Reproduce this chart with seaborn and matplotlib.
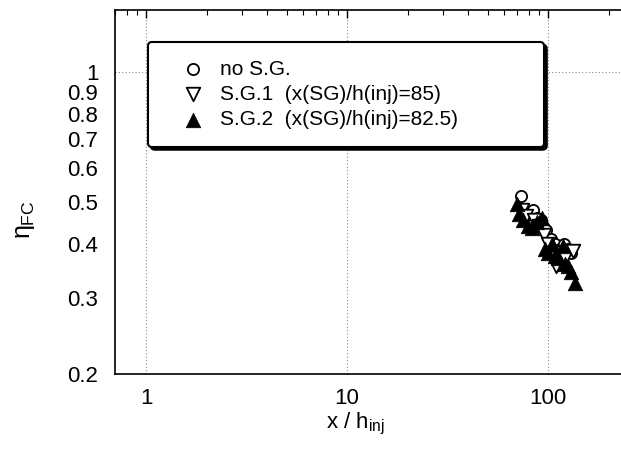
import numpy as np
import pandas as pd
import seaborn as sns
import matplotlib
matplotlib.use("Agg")
import matplotlib.pyplot as plt
from matplotlib.ticker import LogLocator, FixedLocator, FixedFormatter, NullFormatter

# ---- data ----
x_nosg = [73, 80, 84, 88, 92, 98, 103, 108, 115, 120, 126, 130]
y_nosg = [0.515, 0.47, 0.48, 0.46, 0.455, 0.43, 0.41, 0.40, 0.39, 0.40, 0.39, 0.38]

x_sg1 = [74, 78, 85, 90, 95, 100, 106, 110, 116, 122, 133]
y_sg1 = [0.48, 0.465, 0.455, 0.44, 0.42, 0.40, 0.37, 0.355, 0.38, 0.37, 0.385]

x_sg2 = [70, 72, 75, 79, 83, 88, 93, 96, 100, 104, 108, 112, 118, 122, 126, 130, 136]
y_sg2 = [0.495, 0.47, 0.455, 0.44, 0.435, 0.45, 0.46, 0.39, 0.38, 0.40, 0.375,
         0.37, 0.395, 0.36, 0.355, 0.345, 0.325]

labels = ["no S.G.", "S.G.1  (x(SG)/h(inj)=85)", "S.G.2  (x(SG)/h(inj)=82.5)"]
y_ticks = [0.2, 0.3, 0.4, 0.5, 0.6, 0.7, 0.8, 0.9, 1.0]
y_ticklabels = ["0.2", "0.3", "0.4", "0.5", "0.6", "0.7", "0.8", "0.9", "1"]
x_ticks = [1, 10, 100]
x_ticklabels = ["1", "10", "100"]

sns.set_theme(style="white")
plt.rcParams['font.family'] = ['Liberation Sans', 'DejaVu Sans']
plt.rcParams['mathtext.fontset'] = 'custom'
plt.rcParams['mathtext.rm'] = 'Liberation Sans'
plt.rcParams['mathtext.it'] = 'Liberation Sans'
for k in ["text.color", "axes.labelcolor", "xtick.color", "ytick.color", "axes.edgecolor"]:
    plt.rcParams[k] = "black"

fig = plt.figure(figsize=(6.21, 4.59), dpi=100)
ax = fig.add_axes([115/621, 1 - 374/459, (644 - 115)/621, (374 - 10)/459])

ax.set_xscale("log")
ax.set_yscale("log")
ax.set_xlim(0.7, 300)
ax.set_ylim(0.2, 1.39)

# grid at decades (dotted)
for gx in x_ticks:
    ax.axvline(gx, color="#888888", linestyle=(0, (1, 2)), linewidth=0.8, zorder=0)
ax.axhline(1.0, color="#888888", linestyle=(0, (1, 2)), linewidth=0.8, zorder=0)

sns.scatterplot(x=x_nosg, y=y_nosg, ax=ax, marker="o", s=65, facecolor="white",
                edgecolor="black", linewidth=1.3, label=labels[0], zorder=3)
sns.scatterplot(x=x_sg1, y=y_sg1, ax=ax, marker="v", s=95, facecolor="white",
                edgecolor="black", linewidth=1.3, label=labels[1], zorder=4)
sns.scatterplot(x=x_sg2, y=y_sg2, ax=ax, marker="^", s=110, color="black",
                edgecolor="black", linewidth=0.5, label=labels[2], zorder=5)

ax.yaxis.set_major_locator(FixedLocator(y_ticks))
ax.yaxis.set_major_formatter(FixedFormatter(y_ticklabels))
ax.yaxis.set_minor_locator(FixedLocator([]))
ax.yaxis.set_minor_formatter(NullFormatter())
ax.xaxis.set_major_locator(FixedLocator(x_ticks))
ax.xaxis.set_major_formatter(FixedFormatter(x_ticklabels))
ax.xaxis.set_minor_locator(LogLocator(base=10, subs=np.arange(2, 10)))
ax.xaxis.set_minor_formatter(NullFormatter())

ax.tick_params(which="both", direction="in", top=True, right=True, color="black")
ax.tick_params(which="major", length=6, width=1, labelsize=16)
ax.tick_params(which="minor", length=3.5, width=0.8)
ax.tick_params(axis="y", which="major", pad=12)
ax.tick_params(axis="x", which="major", pad=10)

for sp in ax.spines.values():
    sp.set_color("black")
    sp.set_linewidth(1.2)

ax.set_xlabel(r"x / h$_{\rm inj}$", fontsize=16)
ax.set_ylabel(r"$\eta_{\rm FC}$", fontsize=18)
ax.xaxis.set_label_coords((355 - 115) / 529, 1 - (411 - 10) / 364)
ax.yaxis.set_label_coords((37 - 115) / 529, 1 - (220 - 10) / 364)

leg_w = 396 / 621
leg_h = 100 / 459
leg = ax.legend(loc="upper left",
                bbox_to_anchor=(148/621, 1 - 42/459 - leg_h, leg_w, leg_h),
                bbox_transform=fig.transFigure, mode="expand", fontsize=15,
                frameon=True, fancybox=True, edgecolor="black", framealpha=1,
                borderpad=0.85, labelspacing=0.3, handletextpad=0.0,
                borderaxespad=0, handlelength=2.6,
                shadow={"color": "black", "alpha": 1})
leg.get_frame().set_linewidth(1.5)

fig.savefig("out.png", dpi=100)
